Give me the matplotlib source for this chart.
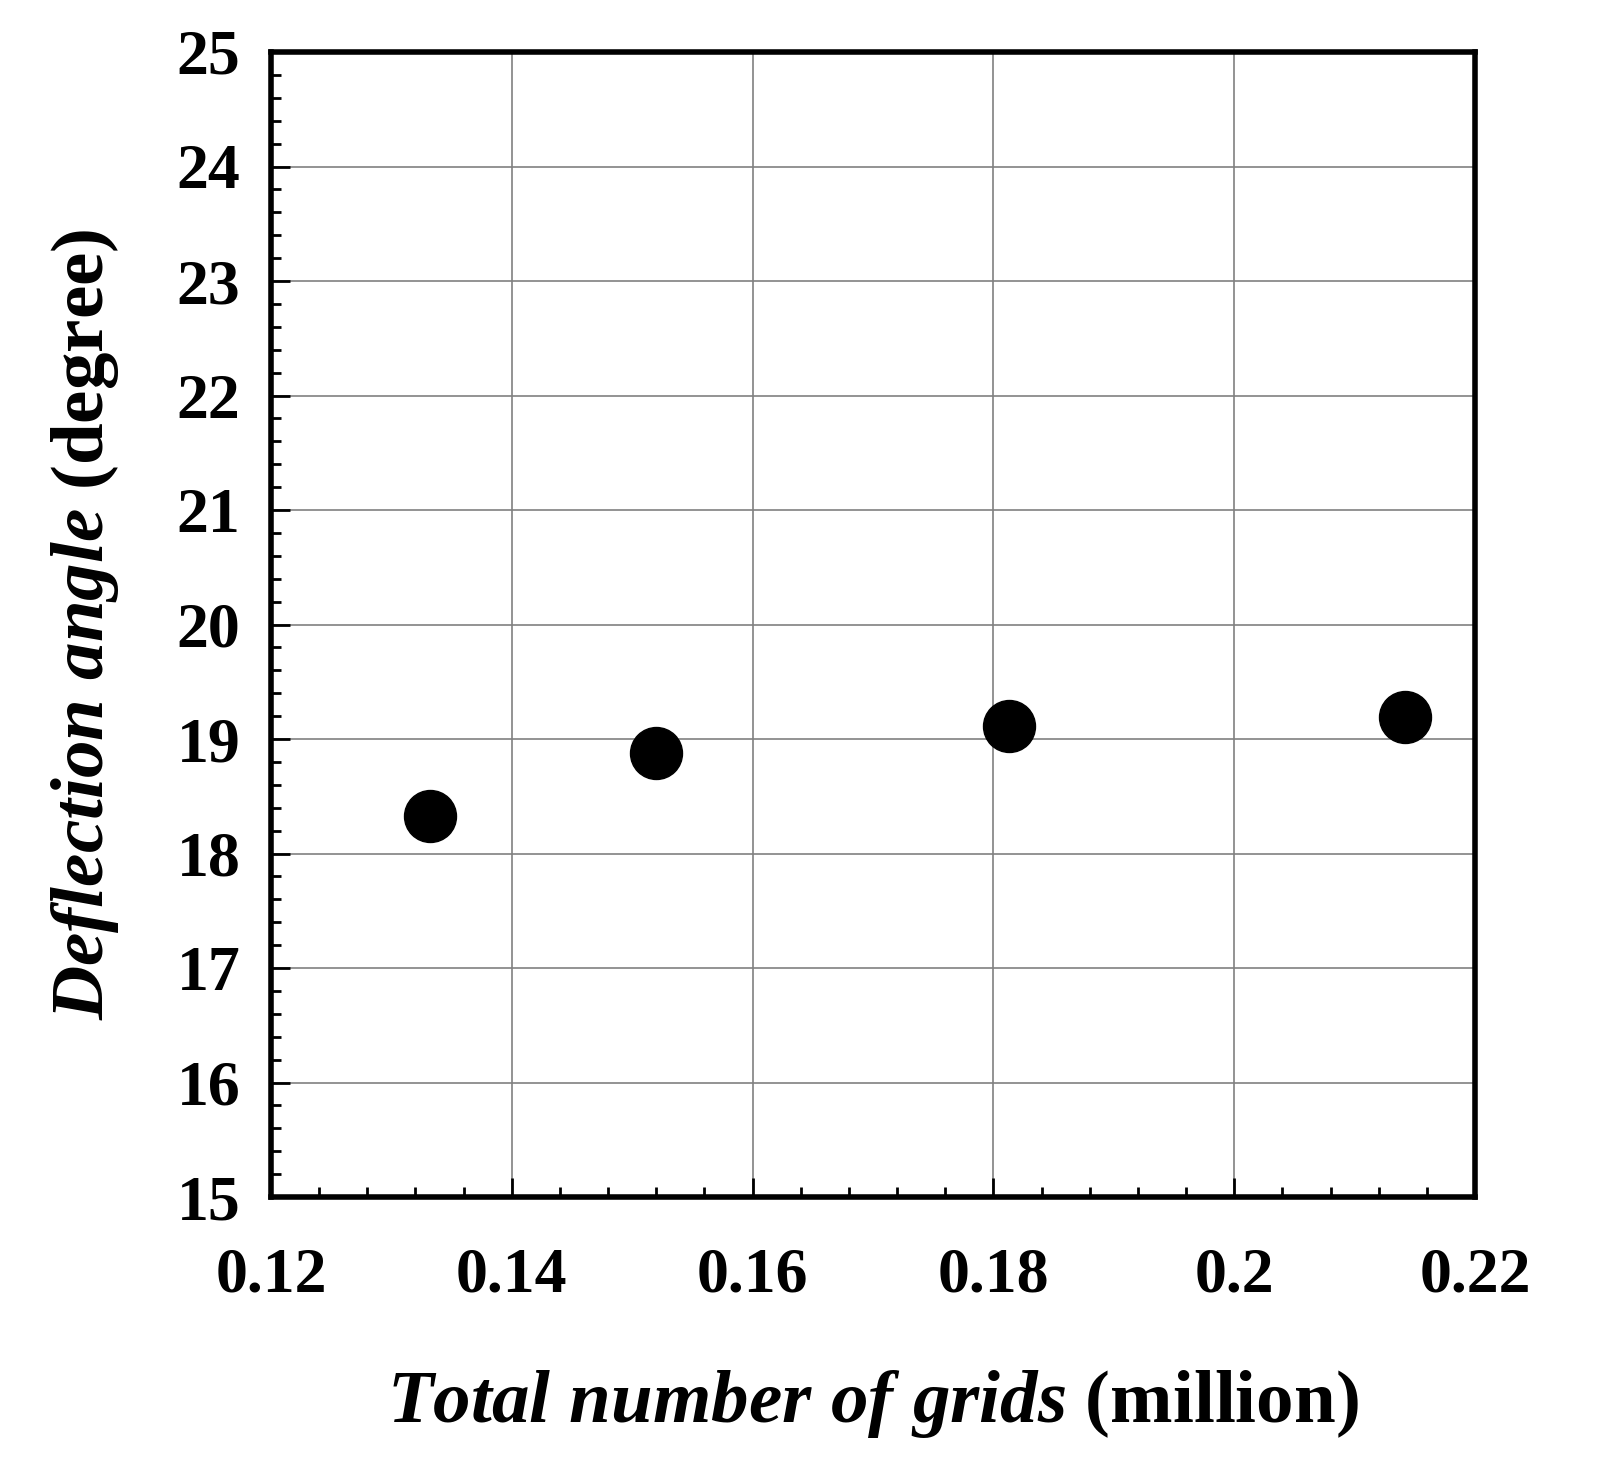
import matplotlib
matplotlib.use("Agg")
import matplotlib.pyplot as plt
from matplotlib.ticker import MultipleLocator

plt.rcParams['font.family'] = 'Liberation Serif'
plt.rcParams['font.weight'] = 'bold'
plt.rcParams['mathtext.fontset'] = 'custom'
plt.rcParams['mathtext.it'] = 'Liberation Serif:italic:bold'
plt.rcParams['mathtext.rm'] = 'Liberation Serif:bold'

# data
grids = [0.1332, 0.1520, 0.1813, 0.2142]
angle = [18.33, 18.88, 19.11, 19.19]
xticks = [0.12, 0.14, 0.16, 0.18, 0.20, 0.22]
xlabels = ['0.12', '0.14', '0.16', '0.18', '0.2', '0.22']

fig = plt.figure(figsize=(16.03, 14.81), dpi=100)
ax = fig.add_axes([271/1603, 1-1197/1481, 1204/1603, 1145/1481])

ax.scatter(grids, angle, s=1400, color='black', zorder=3)

ax.set_xlim(0.12, 0.22)
ax.set_ylim(15, 25)
ax.set_xticks(xticks)
ax.set_xticklabels(xlabels)
ax.xaxis.set_minor_locator(MultipleLocator(0.004))
ax.yaxis.set_major_locator(MultipleLocator(1))
ax.yaxis.set_minor_locator(MultipleLocator(0.2))
ax.grid(True, which='major', color='#808080', lw=1.2)
ax.tick_params(which='both', direction='in', labelsize=46, width=2, pad=22)
ax.tick_params(which='major', length=14)
ax.tick_params(which='minor', length=7)
ax.tick_params(axis='x', pad=36)
for s in ax.spines.values():
    s.set_linewidth(4)

ax.set_xlabel(r'$\mathit{Total\ number\ of\ grids}$ (million)', fontsize=54,
              fontweight='bold', labelpad=45)
ax.set_ylabel(r'$\mathit{Deflection\ angle}$ (degree)', fontsize=54,
              fontweight='bold', labelpad=40)

fig.savefig('out.png', dpi=100)
